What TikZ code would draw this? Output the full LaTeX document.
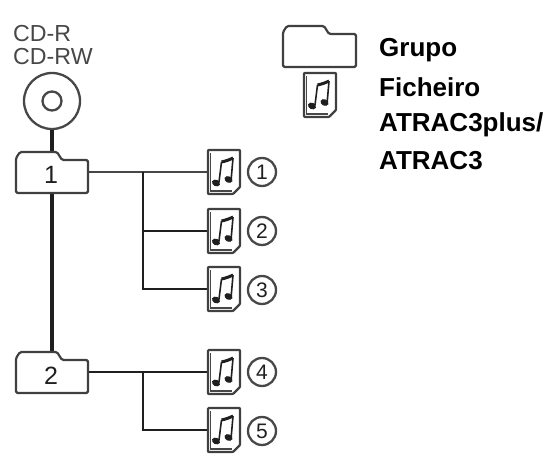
\documentclass[tikz,border=0pt]{standalone}
\usepackage{fontspec}
\setmainfont{Liberation Sans}
\definecolor{ink}{gray}{0.12}
\definecolor{soft}{gray}{0.28}
\tikzset{
  x=1pt,y=-1pt,
  box/.style={inner sep=0pt,outer sep=0pt,rectangle},
  outline/.style={draw=ink!85!white,line width=2.2pt,line join=round,fill=white},
  link/.style={draw=ink,line width=2.8pt},
  thinlink/.style={draw=soft,line width=2pt},
  trunk/.style={draw=ink,line width=3.2pt},
  ring/.style={circle,draw=soft,line width=2.3pt,inner sep=0pt},
  num/.style={ring,minimum size=28pt,text=ink,font=\fontsize{21}{21}\selectfont},
  foldnum/.style={text=ink,inner sep=0pt,font=\fontsize{25}{25}\selectfont},
  lab/.style={anchor=base west,inner sep=0pt,text=black,font=\bfseries\fontsize{26}{26}\selectfont},
  captext/.style={anchor=base west,inner sep=0pt,text=soft,font=\fontsize{23.2}{23.2}\selectfont},
  pics/folder/.style={code={
    \draw[outline,rounded corners=1.5pt] (0,41) -- (0,6) -- (4,0) -- (41,0) -- (46,8) -- (#1,8) -- (#1,41) -- cycle;
  }},
  pics/music/.style={code={
    \draw[outline,rounded corners=0.8pt] (0,0) -- (32,0) -- (32,37) -- (25,44) -- (0,44) -- cycle;
    \draw[draw=soft,line width=1.2pt] (2.8,3) -- (2.8,41) -- (24,41);
    \draw[ink,line width=1.6pt] (11,32) -- (13.5,12);
    \draw[ink,line width=1.6pt] (23.2,29) -- (25,8);
    \draw[ink,line width=3pt] (13.5,12) .. controls (18,11) and (21,10) .. (25,8);
    \fill[ink,rotate around={-25:(8,33)}] (8,33) ellipse [x radius=4.2,y radius=3.2];
    \fill[ink,rotate around={-25:(20.5,29.5)}] (20.5,29.5) ellipse [x radius=4.2,y radius=3.2];
  }},
}
\begin{document}
\begin{tikzpicture}
\useasboundingbox (0,0) rectangle (548,457);
% captions
\node[captext] (capa) at (13,42) {CD-R};
\node[captext] (capb) at (13,65) {CD-RW};
% disc
\node[ring,minimum size=56pt] (disc) at (52,101) {};
\node[ring,minimum size=19pt] (hole) at (52,101) {};
% connector end nodes
\node[box,minimum width=72pt,minimum height=40pt] (f1) at (52,172) {};
\node[box,minimum width=72pt,minimum height=40pt] (f2) at (52,372) {};
\node[box,minimum width=32pt,minimum height=44pt] (m1) at (224,172) {};
\node[box,minimum width=32pt,minimum height=44pt] (m2) at (224,231) {};
\node[box,minimum width=32pt,minimum height=44pt] (m3) at (224,289) {};
\node[box,minimum width=32pt,minimum height=44pt] (m4) at (224,372) {};
\node[box,minimum width=32pt,minimum height=44pt] (m5) at (224,430) {};
\coordinate (j1) at (143,172);
\coordinate (j2) at (143,372);
\draw[trunk] (disc) -- (f1);
\draw[trunk] (f1) -- (f2.north);
\draw[thinlink] (f1.east) -- (m1.west);
\draw[link,line join=miter] (j1) |- (m3.west);
\draw[link] (j1 |- m2.west) -- (m2.west);
\draw[link] (f2.east) -- (m4.west);
\draw[link,line join=miter] (j2) |- (m5.west);
% icons
\pic at (16,152) {folder=72};
\pic at (16,352) {folder=72};
\node[foldnum] (t1) at (51,175) {1};
\node[foldnum] (t2) at (51,376) {2};
\pic at (208,150) {music};
\pic at (208,209) {music};
\pic at (208,267) {music};
\pic at (208,350) {music};
\pic at (208,408) {music};
\node[num] (n1) at (262,172) {1};
\node[num] (n2) at (262,231) {2};
\node[num] (n3) at (262,290) {3};
\node[num] (n4) at (262,372) {4};
\node[num] (n5) at (262,431) {5};
% legend
\pic at (283,26) {folder=73};
\pic at (304,73) {music};
\node[lab] (g) at (379,57) {Grupo};
\node[lab] (h) at (379,97) {Ficheiro};
\node[lab] (i) at (379,132) {ATRAC3plus/};
\node[lab] (k) at (379,169) {ATRAC3};
\end{tikzpicture}
\end{document}
